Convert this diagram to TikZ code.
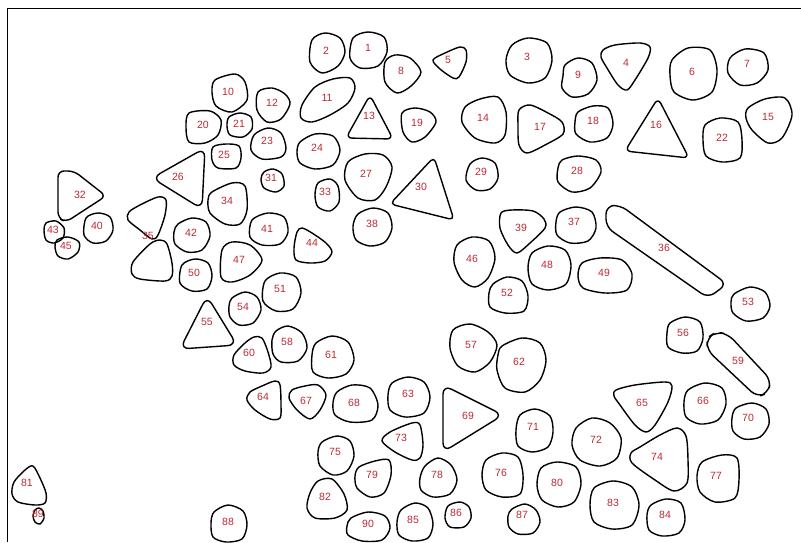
\documentclass[tikz,border=0pt]{standalone}
\usepackage{fontspec}
\setmainfont{Liberation Sans}
\usepackage{tikz}
\usepackage{xcolor}
\definecolor{labred}{RGB}{190,40,50}

\begin{document}
\begin{tikzpicture}[x=1pt,y=-1pt,
  grain/.style={line width=1.4pt,line join=round},
  tri/.style={grain,rounded corners=8pt},
  lab/.style={text=labred,font=\fontsize{10.5}{12}\selectfont,inner sep=0pt}]
  \useasboundingbox (0,0) rectangle (801,542);
  \draw[line width=1.6pt] (7.5,542)--(7.5,8.3)--(801,8.3);
  % round grains
  \draw[grain] plot[smooth cycle] coordinates {(353,38)(368,32)(384,37)(387,52)(378,66)(360,68)(350,58)};
  \draw[grain] plot[smooth cycle] coordinates {(312,40)(325,33)(340,38)(345,52)(338,66)(322,73)(310,62)};
  \draw[grain] plot[smooth cycle] coordinates {(512,45)(528,38)(547,43)(552,60)(545,78)(528,83)(510,75)(506,60)};
  \draw[grain] plot[smooth cycle] coordinates {(603,50)(615,45)(640,43)(650,47)(648,58)(635,80)(627,90)(618,85)(607,68)(601,57)};
  \draw[grain] plot[smooth cycle] coordinates {(433,60)(445,53)(460,47)(466,50)(466,62)(459,77)(453,78)(440,69)};
  \draw[grain] plot[smooth cycle] coordinates {(672,60)(688,48)(710,50)(717,70)(712,92)(693,100)(674,92)(670,75)};
  \draw[grain] plot[smooth cycle] coordinates {(730,58)(745,49)(764,53)(768,70)(757,83)(740,85)(728,73)};
  \draw[grain] plot[smooth cycle] coordinates {(385,62)(395,55)(410,58)(421,72)(411,86)(397,93)(385,82)};
  \draw[grain] plot[smooth cycle] coordinates {(565,65)(578,58)(592,63)(597,80)(588,94)(572,97)(562,88)(563,76)};
  \draw[grain] plot[smooth cycle] coordinates {(215,80)(235,74)(245,82)(247,100)(232,112)(216,106)(212,92)};
  \draw[grain] plot[smooth cycle] coordinates {(302,105)(315,87)(333,79)(350,78)(355,88)(348,103)(330,115)(312,122)(301,118)};
  \draw[grain] plot[smooth cycle] coordinates {(258,92)(272,88)(285,94)(290,104)(281,119)(267,122)(257,110)};
  \draw[grain] plot[smooth cycle] coordinates {(465,107)(480,99)(498,97)(506,112)(505,135)(495,143)(475,138)(462,122)};
  \draw[grain] plot[smooth cycle] coordinates {(748,108)(765,99)(785,98)(792,115)(782,138)(768,143)(752,130)(746,118)};
  \draw[grain] plot[smooth cycle] coordinates {(519,110)(530,105)(548,113)(562,122)(563,134)(545,145)(527,153)(519,145)(518,125)};
  \draw[grain] plot[smooth cycle] coordinates {(578,112)(593,106)(608,108)(613,124)(607,138)(590,142)(576,134)(575,122)};
  \draw[grain] plot[smooth cycle] coordinates {(402,113)(415,108)(430,112)(436,122)(425,137)(412,142)(403,132)};
  \draw[grain] plot[smooth cycle] coordinates {(189,113)(210,111)(221,120)(218,135)(205,143)(189,142)(186,127)};
  \draw[grain] plot[smooth cycle] coordinates {(229,117)(240,113)(251,117)(252,129)(243,137)(230,135)(227,126)};
  \draw[grain] plot[smooth cycle] coordinates {(705,125)(720,118)(738,122)(742,140)(740,158)(722,162)(706,156)(703,140)};
  \draw[grain] plot[smooth cycle] coordinates {(254,135)(268,128)(281,133)(286,148)(281,157)(262,159)(251,150)};
  \draw[grain] plot[smooth cycle] coordinates {(300,142)(315,134)(333,136)(340,150)(333,165)(315,169)(300,163)(297,152)};
  \draw[grain] plot[smooth cycle] coordinates {(213,147)(226,144)(239,146)(241,158)(236,168)(218,168)(212,160)};
  \draw[grain] plot[smooth cycle] coordinates {(348,162)(365,154)(383,155)(392,167)(386,187)(375,200)(358,198)(345,180)};
  \draw[grain] plot[smooth cycle] coordinates {(562,160)(578,156)(596,160)(601,172)(590,188)(572,192)(558,182)(558,168)};
  \draw[grain] plot[smooth cycle] coordinates {(470,164)(482,158)(495,163)(498,178)(490,189)(476,190)(466,180)};
  \draw[grain] plot[smooth cycle] coordinates {(264,172)(273,169)(282,174)(284,186)(276,192)(264,188)(261,179)};
  \draw[grain] plot[smooth cycle] coordinates {(318,183)(330,179)(338,186)(339,202)(330,211)(318,207)(315,195)};
  \draw[grain] plot[smooth cycle] coordinates {(212,192)(232,183)(245,186)(247,210)(240,224)(225,224)(210,213)(208,200)};
  \draw[grain] plot[smooth cycle] coordinates {(129,212)(140,205)(158,197)(166,200)(165,215)(158,235)(152,239)(140,230)(128,220)};
  \draw[grain] plot[smooth cycle] coordinates {(150,244)(160,240)(167,244)(172,263)(172,276)(165,281)(140,279)(132,274)(133,262)};
  \draw[grain] plot[smooth cycle] coordinates {(501,213)(512,210)(533,211)(544,219)(545,228)(530,243)(517,253)(508,245)(500,228)};
  \draw[grain] plot[smooth cycle] coordinates {(560,212)(576,207)(592,212)(596,228)(588,241)(570,243)(557,235)(556,222)};
  \draw[grain] plot[smooth cycle] coordinates {(358,214)(373,208)(388,213)(392,228)(385,242)(370,246)(356,240)(353,226)};
  \draw[grain] plot[smooth cycle] coordinates {(86,218)(98,213)(110,217)(113,230)(106,241)(93,243)(84,235)};
  \draw[grain] plot[smooth cycle] coordinates {(252,220)(268,213)(284,217)(288,232)(280,244)(262,245)(250,237)};
  \draw[grain] plot[smooth cycle] coordinates {(178,224)(192,218)(206,222)(210,236)(202,250)(187,252)(175,244)(174,232)};
  \draw[grain] plot[smooth cycle] coordinates {(46,223)(56,221)(64,228)(63,238)(54,243)(46,240)(44,230)};
  \draw[grain] plot[smooth cycle] coordinates {(297,232)(302,228)(312,233)(326,243)(332,252)(325,261)(310,263)(296,260)(294,248)};
  \draw[grain] plot[smooth cycle] coordinates {(57,240)(68,237)(79,242)(78,252)(68,259)(58,256)(55,247)};
  \draw[grain] plot[smooth cycle] coordinates {(457,245)(472,237)(489,241)(495,258)(488,278)(475,287)(462,280)(454,262)};
  \draw[grain] plot[smooth cycle] coordinates {(222,250)(232,242)(250,245)(262,260)(250,275)(232,282)(221,277)};
  \draw[grain] plot[smooth cycle] coordinates {(532,253)(548,246)(565,250)(571,265)(566,284)(548,290)(532,284)(528,268)};
  \draw[grain] plot[smooth cycle] coordinates {(582,263)(600,258)(622,260)(632,274)(627,290)(605,293)(583,288)(578,276)};
  \draw[grain] plot[smooth cycle] coordinates {(182,265)(195,259)(208,263)(212,276)(207,289)(192,291)(180,283)};
  \draw[grain] plot[smooth cycle] coordinates {(265,281)(280,273)(296,277)(301,293)(293,309)(276,311)(263,301)};
  \draw[grain] plot[smooth cycle] coordinates {(493,284)(507,277)(522,281)(528,296)(524,311)(505,313)(490,307)(489,293)};
  \draw[grain] plot[smooth cycle] coordinates {(734,294)(750,287)(765,292)(770,306)(763,318)(746,321)(733,313)(731,302)};
  \draw[grain] plot[smooth cycle] coordinates {(232,298)(245,292)(257,297)(261,310)(253,323)(239,325)(230,317)(229,306)};
  \draw[grain] plot[smooth cycle] coordinates {(670,323)(685,317)(700,322)(703,338)(697,351)(682,353)(668,347)(667,333)};
  \draw[grain] plot[smooth cycle] coordinates {(453,330)(470,324)(488,332)(497,345)(490,362)(475,372)(458,366)(450,348)};
  \draw[grain] plot[smooth cycle] coordinates {(276,331)(288,326)(302,333)(307,348)(298,361)(281,362)(273,354)(272,340)};
  \draw[grain] plot[smooth cycle] coordinates {(254,337)(262,338)(268,352)(271,367)(263,373)(245,371)(234,365)(234,355)(245,343)};
  \draw[grain] plot[smooth cycle] coordinates {(316,343)(332,336)(348,342)(354,360)(346,374)(328,378)(313,372)(312,355)};
  \draw[grain] plot[smooth cycle] coordinates {(502,346)(522,338)(540,343)(546,360)(540,380)(525,392)(505,388)(497,370)(498,355)};
  \draw[grain] plot[smooth cycle] coordinates {(392,383)(408,377)(424,382)(430,397)(424,413)(405,417)(390,410)(388,395)};
  \draw[grain] plot[smooth cycle] coordinates {(262,386)(275,381)(280,385)(281,405)(280,418)(270,419)(255,410)(247,400)(250,392)};
  \draw[grain] plot[smooth cycle] coordinates {(616,390)(635,385)(665,382)(672,386)(668,402)(655,425)(646,432)(635,425)(620,405)(614,396)};
  \draw[grain] plot[smooth cycle] coordinates {(688,390)(705,383)(722,388)(726,404)(718,420)(700,424)(686,417)(684,402)};
  \draw[grain] plot[smooth cycle] coordinates {(292,390)(305,386)(318,385)(326,395)(320,410)(310,419)(297,410)(289,398)};
  \draw[grain] plot[smooth cycle] coordinates {(337,392)(352,385)(370,388)(378,405)(372,420)(350,422)(335,415)(333,403)};
  \draw[grain] plot[smooth cycle] coordinates {(736,408)(752,403)(766,409)(769,424)(760,437)(744,439)(733,431)(732,418)};
  \draw[grain] plot[smooth cycle] coordinates {(520,415)(535,409)(550,416)(553,432)(548,447)(532,452)(518,446)(516,430)};
  \draw[grain] plot[smooth cycle] coordinates {(576,428)(592,418)(610,423)(621,438)(617,458)(600,466)(580,460)(572,445)};
  \draw[grain] plot[smooth cycle] coordinates {(390,432)(412,423)(420,425)(423,445)(420,458)(412,460)(395,452)(382,441)};
  \draw[grain] plot[smooth cycle] coordinates {(640,447)(660,435)(677,428)(686,436)(688,460)(687,483)(674,491)(655,480)(632,463)(631,453)};
  \draw[grain] plot[smooth cycle] coordinates {(322,442)(337,436)(350,441)(354,456)(347,471)(333,475)(320,466)(318,452)};
  \draw[grain] plot[smooth cycle] coordinates {(486,460)(502,453)(518,457)(523,475)(520,494)(502,497)(486,490)(482,475)};
  \draw[grain] plot[smooth cycle] coordinates {(702,462)(722,455)(737,458)(739,480)(735,498)(715,502)(700,492)(697,476)};
  \draw[grain] plot[smooth cycle] coordinates {(425,466)(438,458)(451,465)(457,480)(450,494)(433,497)(421,490)(420,478)};
  \draw[grain] plot[smooth cycle] coordinates {(359,467)(375,461)(389,460)(391,475)(384,493)(370,497)(357,488)(355,476)};
  \draw[grain] plot[smooth cycle] coordinates {(541,468)(557,462)(576,467)(581,484)(574,502)(558,507)(542,500)(537,485)};
  \draw[grain] plot[smooth cycle] coordinates {(14,482)(25,470)(33,466)(40,478)(46,493)(45,503)(35,505)(18,502)(12,494)};
  \draw[grain] plot[smooth cycle] coordinates {(318,481)(332,479)(344,494)(347,510)(335,518)(315,518)(307,508)(310,493)};
  \draw[grain] plot[smooth cycle] coordinates {(594,488)(613,481)(632,487)(639,505)(632,525)(612,529)(594,522)(590,505)};
  \draw[grain] plot[smooth cycle] coordinates {(651,505)(666,499)(681,503)(685,520)(679,533)(662,536)(649,530)(647,515)};
  \draw[grain] plot[smooth cycle] coordinates {(401,510)(415,503)(428,508)(433,524)(428,538)(412,541)(399,535)(397,522)};
  \draw[grain] plot[smooth cycle] coordinates {(448,506)(460,502)(469,507)(471,518)(464,527)(450,527)(445,518)};
  \draw[grain] plot[smooth cycle] coordinates {(512,509)(525,504)(536,510)(540,522)(533,533)(518,534)(509,527)(508,516)};
  \draw[grain] plot[smooth cycle] coordinates {(214,512)(228,505)(243,511)(247,525)(242,539)(226,542)(213,537)(211,523)};
  \draw[grain] plot[smooth cycle] coordinates {(35,510)(39,508)(43,511)(44,518)(40,524)(35,522)(33,516)};
  \draw[grain] plot[smooth cycle] coordinates {(351,518)(368,512)(385,516)(390,528)(382,540)(362,541)(348,535)(347,526)};
  % angular grains
  \draw[tri,rounded corners=6pt] (370,95)--(393,139)--(346,138)--cycle;
  \draw[tri,rounded corners=6pt] (658,98)--(689,158)--(625,151)--cycle;
  \draw[tri,rounded corners=9pt] (205,148)--(202,209)--(152,178)--cycle;
  \draw[tri,rounded corners=5pt] (434,157)--(454,220)--(390,204)--cycle;
  \draw[tri,rounded corners=6pt] (58,171)--(74,171)--(106,196)--(66,222)--(58,218)--cycle;
  \draw[tri] (606,206)--(620,205)--(727,284)--(708,298)--(606,227)--cycle;
  \draw[tri,rounded corners=9pt] (207,296)--(237,345)--(180,349)--cycle;
  \draw[tri] (707,338)--(716,332)--(728,334)--(771,380)--(768,393)--(757,397)--(707,350)--cycle;
  \draw[tri,rounded corners=9pt] (443,385)--(503,415)--(443,452)--cycle;
  % numbers
  \foreach \n/\x/\y in {1/368/48,2/326/51,3/527/57,4/626/63,5/448/60,6/692/72,7/747/64,8/401/71,
    9/578/75,10/228/92,11/327/98,12/272/103,13/369/116,14/483/118,15/768/117,16/656/125,
    17/540/127,18/593/121,19/417/123,20/203/125,21/239/124,22/722/138,23/267/141,24/317/148,
    25/224/155,26/178/177,27/366/174,28/577/171,29/481/172,30/421/187,31/271/178,32/80/195,
    33/325/192,34/227/201,35/148/236,36/664/248,37/574/222,38/372/224,39/521/228,40/97/226,
    41/267/229,42/191/233,43/53/230,44/312/243,45/66/246,46/472/259,47/239/260,48/547/265,
    49/604/273,50/194/273,51/280/289,52/507/293,53/748/302,54/243/307,55/207/322,56/683/333,
    57/471/345,58/287/342,59/738/361,60/249/353,61/331/355,62/519/362,63/408/394,64/263/397,
    65/642/403,66/703/401,67/306/401,68/354/403,69/468/416,70/748/418,71/533/427,72/596/440,
    73/401/438,74/657/457,75/335/452,76/501/473,77/716/476,78/437/475,79/372/475,80/557/483,
    81/27/483,82/325/497,83/613/503,84/665/515,85/413/520,86/456/513,87/522/515,88/228/522,
    89/38/514,90/368/524}
    \node[lab] (g\n) at (\x,\y) {\n};
\end{tikzpicture}
\end{document}
